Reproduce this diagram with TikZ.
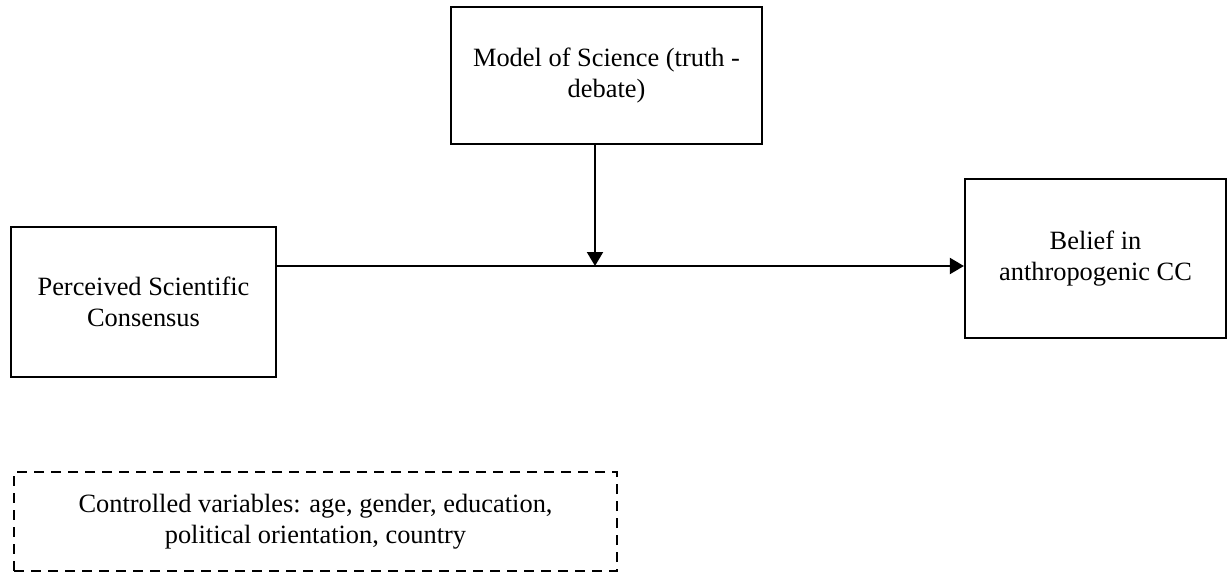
\documentclass[tikz,border=0pt]{standalone}
\usepackage{fontspec}
\setmainfont{Liberation Serif}
\usetikzlibrary{arrows.meta}
\begin{document}
\begin{tikzpicture}[x=1pt,y=-1pt,
  box/.style={draw=black,line width=2.2pt,align=center,inner sep=0pt,
    font=\fontsize{26.4pt}{31pt}\selectfont},
  dbox/.style={box,dash pattern=on 10pt off 7pt},
  conn/.style={line width=2pt,-{Triangle[width=16pt,length=14pt]}}]
\useasboundingbox (0,0) rectangle (1227,574);
\node[box,minimum width=311pt,minimum height=137pt] (model) at (606.5,75.5) {Model of Science (truth -\\debate)};
\node[box,minimum width=265pt,minimum height=150pt] (perc) at (143.5,302) {Perceived Scientific\\Consensus};
\node[box,minimum width=261pt,minimum height=159pt] (belief) at (1095.5,258.5) {Belief in\\anthropogenic CC};
\node[dbox,minimum width=603pt,minimum height=99pt] (ctrl) at (315.5,521.5) {Controlled variables: age, gender, education,\\political orientation, country};
\coordinate (m) at (595,266);
\draw[conn] (perc.east |- m) -- (belief.west |- m);
\draw[conn] (model.south -| m) -- (m);
\end{tikzpicture}
\end{document}
